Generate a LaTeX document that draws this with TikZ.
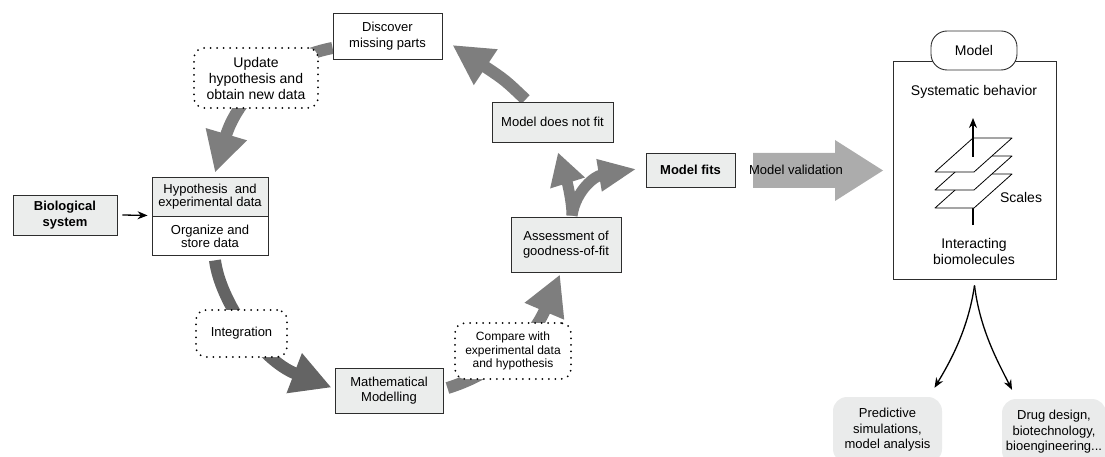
\documentclass[tikz,border=0pt]{standalone}
\usepackage{fontspec}
\setmainfont{Liberation Sans}
\usetikzlibrary{arrows.meta,backgrounds}
\definecolor{boxgray}{RGB}{235,237,236}
\definecolor{arrgray}{RGB}{126,126,126}
\definecolor{arrdark}{RGB}{100,100,100}
\definecolor{valgray}{RGB}{172,172,172}
\definecolor{softgray}{RGB}{234,235,235}
\definecolor{edgecol}{RGB}{45,45,45}
\begin{document}
\begin{tikzpicture}[x=1pt,y=-1pt,
  every node/.style={inner sep=0pt, align=center, font=\fontsize{13}{15.5}\selectfont},
  gbox/.style={draw=edgecol, line width=0.9pt, fill=boxgray},
  wbox/.style={draw=edgecol, line width=0.9pt, fill=white},
  dotbox/.style={draw=black, fill=white, rounded corners=10pt, line width=2pt,
                 dash pattern=on 0pt off 6.5pt, line cap=round},
  softbox/.style={fill=softgray, rounded corners=14pt},
  bigarrow/.style={draw=arrgray, line width=12pt, -{Triangle[length=40pt,width=40pt]}},
  thinarrow/.style={draw=black, line width=1.3pt, -{Stealth[length=10pt,width=8pt]}},
  plane/.style={draw=black, fill=white, line width=0.8pt, line join=round}
]
\useasboundingbox (0,0) rectangle (1105,457);
\clip (0,0) rectangle (1105,457);

% ---- nodes of the cycle ----
\node[gbox, minimum width=104pt, minimum height=40pt,
      font=\fontsize{13}{15.5}\selectfont\bfseries] (bio) at (65,215) {Biological\\system};
\node[gbox, minimum width=116pt, minimum height=39pt,
      font=\fontsize{13}{13.5}\selectfont] (hyptop) at (210,196.5) {Hypothesis\ \ and\\experimental data};
\node[wbox, minimum width=116pt, minimum height=39pt, anchor=north,
      font=\fontsize{13}{13.5}\selectfont] (hypbot) at (hyptop.south) {Organize and\\store data};
\node[wbox, minimum width=109pt, minimum height=46pt] (disc) at (387.5,36) {Discover\\missing parts};
\node[dotbox, minimum width=124pt, minimum height=60pt,
      font=\fontsize{14}{16}\selectfont] (upd) at (256,78) {Update\\hypothesis and\\obtain new data};
\node[dotbox, minimum width=91pt, minimum height=47pt] (integ) at (241.5,333.5) {Integration};
\node[gbox, minimum width=108pt, minimum height=45pt] (math) at (389,390.5) {Mathematical\\Modelling};
\node[dotbox, minimum width=116pt, minimum height=56pt,
      font=\fontsize{12}{13.5}\selectfont] (comp) at (513,351) {Compare with\\experimental data\\and hypothesis};
\node[gbox, minimum width=110pt, minimum height=55pt] (assess) at (566,244.5) {Assessment of\\goodness-of-fit};
\node[gbox, minimum width=121pt, minimum height=40pt] (notfit) at (552.5,122) {Model does not fit};
\node[gbox, minimum width=89pt, minimum height=34pt,
      font=\fontsize{13}{15.5}\selectfont\bfseries] (fits) at (690.5,170) {Model fits};

% ---- model validation arrow ----
\fill[valgray] (753,153) -- (835,153) -- (835,140) -- (883,170.5) -- (835,201) -- (835,188) -- (753,188) -- cycle;
\node (valtext) at (796,170) {Model validation};

% ---- model box ----
\node[wbox, minimum width=163pt, minimum height=218pt] (modelbox) at (974.5,170) {};
\node[wbox, rounded corners=16pt, minimum width=86pt, minimum height=39pt,
      font=\fontsize{14}{16}\selectfont] (pill) at (974,50.5) {Model};
\node[font=\fontsize{14}{16}\selectfont] (sysbeh) at (974,92) {Systematic behavior};
\node[font=\fontsize{14}{16}\selectfont] (scales) at (1021,197) {Scales};
\node[font=\fontsize{14}{16}\selectfont] (interact) at (974,251) {Interacting\\biomolecules};

\coordinate (shaftlow) at (973,225);
\coordinate (shaftlowtop) at (973,208);
\draw[line width=1.3pt] (shaftlow) -- (shaftlowtop);
\draw[plane] (935,208) -- (974,208) -- (1012,174) -- (973,174) -- cycle;
\draw[plane] (935,190) -- (974,190) -- (1012,156) -- (973,156) -- cycle;
\draw[plane] (935,172) -- (974,172) -- (1012,138) -- (973,138) -- cycle;
\coordinate (shaftup) at (973,157);
\coordinate (shafttip) at (973,118);
\draw[thinarrow] (shaftup) -- (shafttip);

% ---- application boxes ----
\node[softbox, minimum width=109pt, minimum height=66pt] (pred) at (887.5,430) {Predictive\\simulations,\\model analysis};
\node[softbox, minimum width=104pt, minimum height=66pt] (drug) at (1054,432) {Drug design,\\biotechnology,\\bioengineering...};

\draw[thinarrow] ([yshift=-6pt]modelbox.south) .. controls (968,330) and (950,362) .. ([xshift=47pt,yshift=9pt]pred.north);
\draw[thinarrow] ([yshift=-6pt]modelbox.south) .. controls (980,330) and (998,362) .. ([xshift=-42pt,yshift=9pt]drug.north);

\draw[thinarrow] ([xshift=5pt]bio.east) -- ([xshift=-4pt,yshift=1pt]hyptop.south west);

% ---- big gray arrows (behind the boxes) ----
\begin{pgfonlayer}{background}
\draw[bigarrow] ([yshift=-12pt]disc.west) .. controls (270,60) and (235,105) .. ([xshift=5pt,yshift=4pt]hyptop.north);
\draw[bigarrow, draw=arrdark] ([xshift=5pt,yshift=-4pt]hypbot.south) .. controls (220,300) and (260,360) .. ([xshift=-3pt,yshift=3pt]math.west);
\draw[bigarrow] ([xshift=4pt,yshift=2.5pt]math.east) .. controls (490,375) and (530,345) .. ([xshift=-6pt,yshift=-2pt]assess.south);
\draw[bigarrow, line width=11pt, -{Triangle[length=32pt,width=34pt]}] ([xshift=6pt,yshift=1pt]assess.north) .. controls (572,200) and (566,178) .. ([xshift=5.5pt,yshift=-10pt]notfit.south);
\draw[bigarrow, line width=11pt, -{Triangle[length=38pt,width=30pt]}] ([xshift=6pt,yshift=1pt]assess.north) .. controls (576,190) and (595,176) .. ([xshift=-9pt,yshift=1pt]fits.west);
\draw[bigarrow] ([xshift=-27pt,yshift=2pt]notfit.north) .. controls (505,80) .. ([xshift=10pt,yshift=-9pt]disc.east);
\end{pgfonlayer}
\end{tikzpicture}
\end{document}
